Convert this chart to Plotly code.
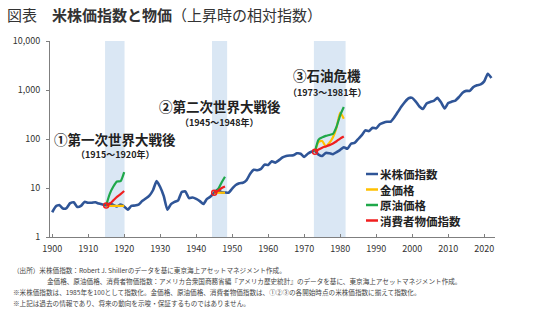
import plotly.graph_objects as go

# ---- data ----
stock_years = list(range(1900, 2023))
stock_index = [
    3.2, 4.2, 4.5, 3.8, 3.9, 4.9, 5.1, 4.1, 4.3, 5.2,
    5.0, 5.0, 5.1, 4.8, 4.6, 4.4, 4.8, 4.5, 4.2, 4.6,
    4.2, 3.6, 4.3, 4.4, 4.6, 5.4, 6.1, 7.0, 9.0, 13.8,
    10.5, 6.8, 3.6, 4.7, 5.2, 5.6, 8.3, 8.5, 6.2, 6.4,
    6.0, 5.4, 4.7, 6.0, 6.7, 8.0, 9.3, 8.2, 8.1, 8.0,
    9.7, 11.5, 12.5, 12.8, 14.5, 19.5, 23.5, 23.0, 24.5, 30.0,
    29.5, 35.0, 33.0, 37.0, 42.0, 45.0, 46.0, 46.5, 51.0, 50.0,
    43.0, 50.0, 55.0, 57.0, 48.0, 45.0, 52.0, 51.0, 49.0, 54.0,
    60.0, 68.0, 63.0, 80.0, 83.0, 100, 120, 150, 145, 170,
    165, 200, 215, 225, 225, 275, 355, 460, 575, 680,
    690, 580, 460, 410, 530, 570, 600, 690, 560, 420,
    540, 580, 610, 720, 880, 960, 960, 1150, 1250, 1300,
    1500, 2150, 1750,
]

ep1_years = [1915, 1916, 1917, 1918, 1919, 1920]
ep1_gold = [4.4, 4.3, 4.3, 4.3, 4.3, 4.3]
ep1_oil = [4.4, 7.6, 10.7, 13.6, 13.8, 21.1]
ep1_cpi = [4.4, 4.75, 5.6, 6.6, 7.5, 8.7]

ep2_years = [1945, 1946, 1947, 1948]
ep2_gold = [8.0, 8.0, 8.0, 8.0]
ep2_oil = [8.0, 9.2, 12.7, 17.0]
ep2_cpi = [8.0, 8.7, 9.9, 10.7]

ep3_years = [1973, 1974, 1975, 1976, 1977, 1978, 1979, 1980, 1981]
ep3_gold = [55, 87, 91, 70.7, 83.7, 109, 173, 346, 260]
ep3_oil = [55, 97, 108, 116, 121, 127, 179, 305, 449]
ep3_cpi = [55, 61, 66.6, 70.5, 75, 80.8, 89.9, 102, 112.6]

bands = [(1914.7, 1920.1), (1944.4, 1948.6), (1972.7, 1981.5)]

legend_names = ["米株価指数", "金価格", "原油価格", "消費者物価指数"]
x_ticks = list(range(1900, 2030, 10))
y_ticks = [1, 10, 100, 1000, 10000]
y_ticktext = ["1", "10", "100", "1,000", "10,000"]

C_BLUE = "#2F5597"
C_GOLD = "#FFC000"
C_GREEN = "#1FA84A"
C_RED = "#F01E1E"
C_BAND = "#DAE7F4"
FONT = "Noto Sans CJK JP"

W, H = 540, 322
L, R, T, B = 50, 45, 41, 85
PW, PH = W - L - R, H - T - B


def px(x):
    return (x - L) / PW


def py(y):
    return (H - B - y) / PH


fig = go.Figure()

fig.add_trace(go.Scatter(x=stock_years, y=stock_index, mode="lines",
                         line=dict(color=C_BLUE, width=2.6, shape="spline", smoothing=0.5),
                         name=legend_names[0], showlegend=False))

for yrs, gold, oil, cpi in [(ep1_years, ep1_gold, ep1_oil, ep1_cpi),
                            (ep2_years, ep2_gold, ep2_oil, ep2_cpi),
                            (ep3_years, ep3_gold, ep3_oil, ep3_cpi)]:
    fig.add_trace(go.Scatter(x=yrs, y=gold, mode="lines",
                             line=dict(color=C_GOLD, width=2.2, shape="spline", smoothing=0.6),
                             showlegend=False))
    fig.add_trace(go.Scatter(x=yrs, y=oil, mode="lines",
                             line=dict(color=C_GREEN, width=2.2, shape="spline", smoothing=0.6),
                             showlegend=False))
    fig.add_trace(go.Scatter(x=yrs, y=cpi, mode="lines",
                             line=dict(color=C_RED, width=2.2, shape="spline", smoothing=0.6),
                             showlegend=False))
    fig.add_trace(go.Scatter(x=yrs[:1], y=cpi[:1], mode="markers",
                             marker=dict(symbol="circle-open", color=C_RED, size=5,
                                         line=dict(width=1.4, color=C_RED)),
                             showlegend=False))

for x0, x1 in bands:
    fig.add_shape(type="rect", xref="x", yref="paper", x0=x0, x1=x1, y0=0, y1=1,
                  fillcolor=C_BAND, line=dict(width=0), layer="below")

# manual legend
leg_colors = [C_BLUE, C_GOLD, C_GREEN, C_RED]
leg_rows = [174, 189.5, 205, 220.5]
for name, col, yy in zip(legend_names, leg_colors, leg_rows):
    fig.add_shape(type="line", xref="paper", yref="paper",
                  x0=px(366), x1=px(378), y0=py(yy), y1=py(yy),
                  line=dict(color=col, width=2.5))
    fig.add_annotation(xref="paper", yref="paper", x=px(379), y=py(yy),
                       text="<b>" + name + "</b>", showarrow=False,
                       xanchor="left", yanchor="middle", borderpad=0,
                       font=dict(family=FONT, size=11.5, color="#222"))

# episode labels
labels = [
    ("①第一次世界大戦後", 115, 138.5, 13.5), ("（1915〜1920年）", 115, 154.5, 9),
    ("②第二次世界大戦後", 220, 106, 13.5), ("（1945〜1948年）", 219, 122.5, 9),
    ("③石油危機", 327, 75.5, 13.5), ("（1973〜1981年）", 327, 92, 9),
]
for txt, x, y, s in labels:
    fig.add_annotation(xref="paper", yref="paper", x=px(x), y=py(y),
                       text="<b>" + txt + "</b>", showarrow=False,
                       xanchor="center", yanchor="middle", borderpad=0,
                       font=dict(family=FONT, size=s, color="#222"))

# title
fig.add_annotation(xref="paper", yref="paper", x=px(5), y=py(15),
                   text="図表　<b>米株価指数と物価</b>（上昇時の相対指数）",
                   showarrow=False, xanchor="left", yanchor="middle",
                   font=dict(family=FONT, size=15, color="#333"))

# footnotes
notes = [
    ("（出所）米株価指数：Robert J. Shillerのデータを基に東京海上アセットマネジメント作成。", 12, 270),
    ("金価格、原油価格、消費者物価指数：アメリカ合衆国商務省編『アメリカ歴史統計』のデータを基に、東京海上アセットマネジメント作成。", 46, 281),
    ("※米株価指数は、1985年を100として指数化。金価格、原油価格、消費者物価指数は、①②③の各開始時点の米株価指数に揃えて指数化。", 12, 292),
    ("※上記は過去の情報であり、将来の動向を示唆・保証するものではありません。", 12, 303),
]
for txt, x, y in notes:
    fig.add_annotation(xref="paper", yref="paper", x=px(x), y=py(y),
                       text=txt, showarrow=False, xanchor="left", yanchor="middle",
                       borderpad=0, font=dict(family=FONT, size=6.6, color="#444"))

fig.update_layout(
    width=W, height=H,
    margin=dict(l=L, r=R, t=T, b=B),
    paper_bgcolor="white", plot_bgcolor="white",
    showlegend=False,
    font=dict(family=FONT, color="#333"),
    xaxis=dict(range=[1899.4, 2023], tickvals=x_ticks, showgrid=False, zeroline=False,
               showline=True, linecolor="#7F7F7F", linewidth=1,
               ticks="inside", ticklen=3, tickcolor="#7F7F7F", ticklabelstandoff=3,
               tickfont=dict(size=9, color="#333")),
    yaxis=dict(type="log", range=[0, 4], tickvals=y_ticks, ticktext=y_ticktext,
               showgrid=False, zeroline=False, showline=True, linecolor="#7F7F7F",
               linewidth=1, ticks="outside", ticklen=3, tickcolor="#7F7F7F",
               ticklabelstandoff=4, tickfont=dict(size=9, color="#333")),
)

fig.write_html("out.html")
